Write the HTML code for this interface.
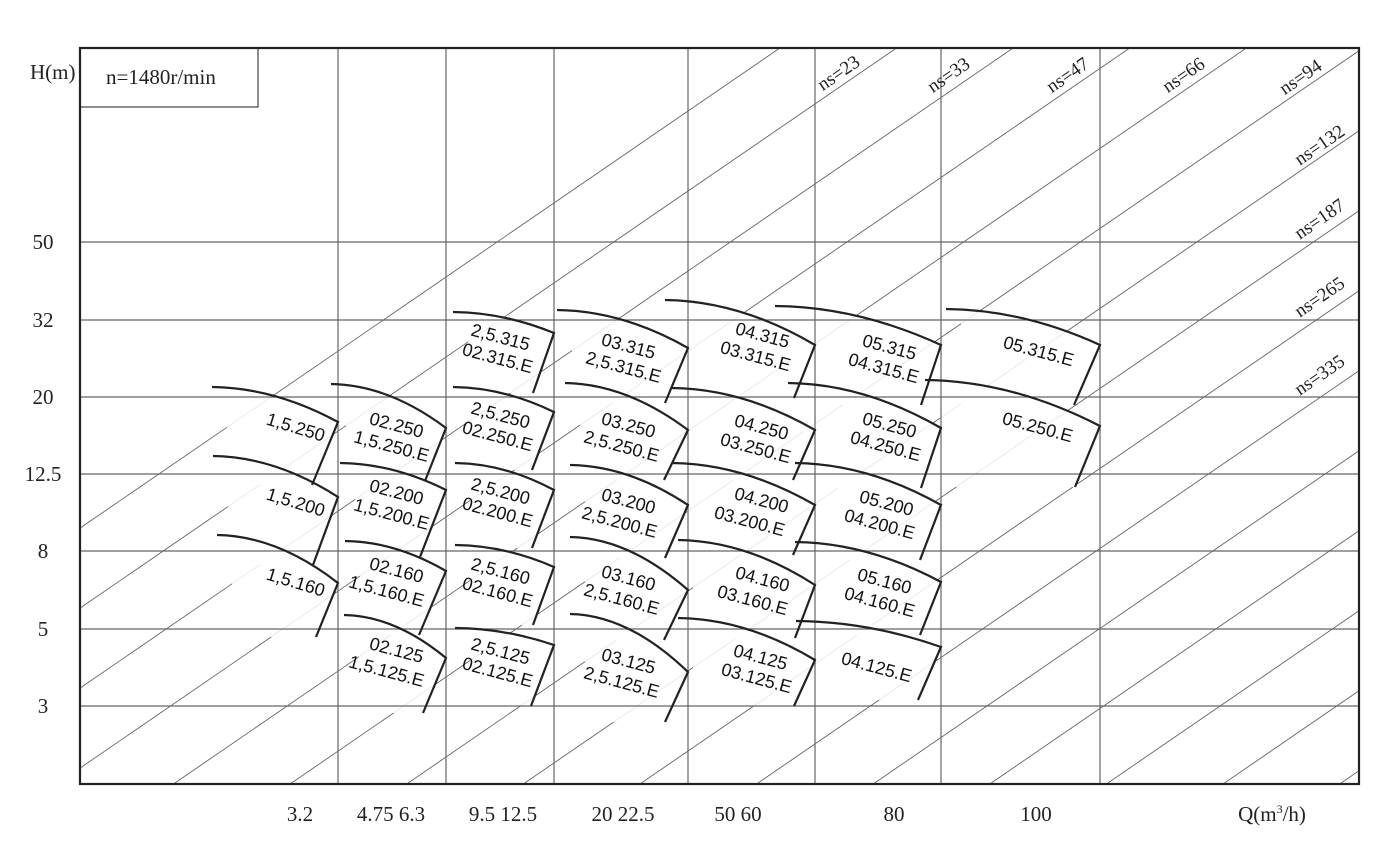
<!DOCTYPE html>
<html><head><meta charset="utf-8"><style>
html,body{margin:0;padding:0;background:#fff;width:1374px;height:866px;overflow:hidden;}
svg{display:block;position:absolute;left:0;top:0;}
.ax{font-family:"Liberation Serif",serif;font-size:21px;fill:#222;}
.lb{font-family:"Liberation Sans",sans-serif;font-size:18px;fill:#111;}
.ns{font-family:"Liberation Serif",serif;font-size:19px;fill:#222;}
</style></head><body>
<svg id="s" width="1374" height="866" viewBox="0 0 1374 866" xmlns="http://www.w3.org/2000/svg" overflow="hidden">
<defs><clipPath id="cp"><rect x="80" y="48" width="1279" height="736"/></clipPath></defs>
<rect width="1374" height="866" fill="#fff"/>
<g id="diag" clip-path="url(#cp)" stroke="#555" stroke-width="0.8"></g>
<g id="boxes"></g>
<g id="grid" stroke="#666" stroke-width="1.2">
<line x1="338" y1="48" x2="338" y2="784"/><line x1="446" y1="48" x2="446" y2="784"/>
<line x1="554" y1="48" x2="554" y2="784"/><line x1="688" y1="48" x2="688" y2="784"/>
<line x1="815" y1="48" x2="815" y2="784"/><line x1="941" y1="48" x2="941" y2="784"/>
<line x1="1100" y1="48" x2="1100" y2="784"/>
<line x1="80" y1="242" x2="1359" y2="242"/><line x1="80" y1="320" x2="1359" y2="320"/>
<line x1="80" y1="397" x2="1359" y2="397"/><line x1="80" y1="474" x2="1359" y2="474"/>
<line x1="80" y1="551" x2="1359" y2="551"/><line x1="80" y1="629" x2="1359" y2="629"/>
<line x1="80" y1="706" x2="1359" y2="706"/>
</g>
<g id="arcs"></g>
<rect x="80" y="48" width="178" height="59" fill="#fff" stroke="#444" stroke-width="1.2"/>
<rect x="80" y="48" width="1279" height="736" fill="none" stroke="#222" stroke-width="2.2"/>
<text class="ax" x="106" y="84">n=1480r/min</text>
<text class="ax" x="30" y="79">H(m)</text>
<g class="ax" text-anchor="middle">
<text x="43" y="249">50</text><text x="43" y="327">32</text><text x="43" y="404">20</text>
<text x="43" y="481">12.5</text><text x="43" y="558">8</text><text x="43" y="636">5</text><text x="43" y="713">3</text>
<text x="300" y="821">3.2</text><text x="391" y="821">4.75 6.3</text><text x="503" y="821">9.5 12.5</text>
<text x="623" y="821">20  22.5</text><text x="738" y="821">50 60</text><text x="894" y="821">80</text>
<text x="1036" y="821">100</text><text x="1272" y="821">Q(m<tspan font-size="12" dy="-8">3</tspan><tspan dy="8">/h)</tspan></text>
</g>
<g class="ns" text-anchor="middle">
<text transform="translate(842,78) rotate(-34.5)">ns=23</text>
<text transform="translate(952,80) rotate(-34.5)">ns=33</text>
<text transform="translate(1071,80) rotate(-34.5)">ns=47</text>
<text transform="translate(1187,80) rotate(-34.5)">ns=66</text>
<text transform="translate(1304,82) rotate(-34.5)">ns=94</text>
<text transform="translate(1323,150) rotate(-34.5)">ns=132</text>
<text transform="translate(1323,224) rotate(-34.5)">ns=187</text>
<text transform="translate(1323,302) rotate(-34.5)">ns=265</text>
<text transform="translate(1323,380) rotate(-34.5)">ns=335</text>
</g>
<g class="lb" text-anchor="middle">
<text transform="translate(294,433) rotate(17)">1,5.250</text>
<text transform="translate(294,508) rotate(17)">1,5.200</text>
<text transform="translate(294,588) rotate(17)">1,5.160</text>

<text transform="translate(395,431) rotate(15)">02.250</text><text transform="translate(390,452) rotate(15)">1,5.250.E</text>
<text transform="translate(395,498) rotate(15)">02.200</text><text transform="translate(390,520) rotate(15)">1,5.200.E</text>
<text transform="translate(395,576) rotate(15)">02.160</text><text transform="translate(385,597) rotate(15)">1,5.160.E</text>
<text transform="translate(395,656) rotate(15)">02.125</text><text transform="translate(385,677) rotate(15)">1,5.125.E</text>

<text transform="translate(499,343) rotate(15)">2,5.315</text><text transform="translate(496,364) rotate(15)">02.315.E</text>
<text transform="translate(499,421) rotate(15)">2,5.250</text><text transform="translate(496,442) rotate(15)">02.250.E</text>
<text transform="translate(499,497) rotate(15)">2,5.200</text><text transform="translate(496,518) rotate(15)">02.200.E</text>
<text transform="translate(499,577) rotate(15)">2,5.160</text><text transform="translate(496,598) rotate(15)">02.160.E</text>
<text transform="translate(499,657) rotate(15)">2,5.125</text><text transform="translate(496,678) rotate(15)">02.125.E</text>

<text transform="translate(627,352) rotate(15)">03.315</text><text transform="translate(622,373) rotate(15)">2,5.315.E</text>
<text transform="translate(627,431) rotate(15)">03.250</text><text transform="translate(620,452) rotate(15)">2,5.250.E</text>
<text transform="translate(627,507) rotate(15)">03.200</text><text transform="translate(618,528) rotate(15)">2,5.200.E</text>
<text transform="translate(627,584) rotate(15)">03.160</text><text transform="translate(620,605) rotate(15)">2,5.160.E</text>
<text transform="translate(627,667) rotate(15)">03.125</text><text transform="translate(620,688) rotate(15)">2,5.125.E</text>

<text transform="translate(761,341) rotate(15)">04.315</text><text transform="translate(754,362) rotate(15)">03.315.E</text>
<text transform="translate(760,433) rotate(15)">04.250</text><text transform="translate(754,454) rotate(15)">03.250.E</text>
<text transform="translate(760,506) rotate(15)">04.200</text><text transform="translate(748,527) rotate(15)">03.200.E</text>
<text transform="translate(761,585) rotate(15)">04.160</text><text transform="translate(751,606) rotate(15)">03.160.E</text>
<text transform="translate(759,663) rotate(15)">04.125</text><text transform="translate(755,684) rotate(15)">03.125.E</text>

<text transform="translate(888,353) rotate(15)">05.315</text><text transform="translate(882,374) rotate(15)">04.315.E</text>
<text transform="translate(888,431) rotate(15)">05.250</text><text transform="translate(884,452) rotate(15)">04.250.E</text>
<text transform="translate(885,509) rotate(15)">05.200</text><text transform="translate(878,530) rotate(15)">04.200.E</text>
<text transform="translate(883,587) rotate(15)">05.160</text><text transform="translate(878,608) rotate(15)">04.160.E</text>
<text transform="translate(875,673) rotate(15)">04.125.E</text>

<text transform="translate(1037,357) rotate(15)">05.315.E</text>
<text transform="translate(1036,433) rotate(15)">05.250.E</text>
</g>
</svg>
<script>
var NS="http://www.w3.org/2000/svg";
var d=document.getElementById("diag");
for(var c=583;c<=1720;c+=80){var l=document.createElementNS(NS,"line");
l.setAttribute("x1",0);l.setAttribute("y1",c);l.setAttribute("x2",1400);l.setAttribute("y2",c-0.686*1400);d.appendChild(l);}
var B=[
[212,387,338,422,312,485],[213,456,338,497,313,565],[217,535,338,583,316,637],
[331,384,446,428,425,481],[340,463,446,490,420,557],[345,541,446,571,419,635],[344,615,446,658,423,713],
[453,312,554,333,533,393],[453,387,554,412,532,470],[455,463,554,490,532,548],[455,545,554,567,533,625],[455,628,554,645,531,706],
[557,310,688,348,665,403],[565,383,688,430,664,480],[570,465,688,505,665,558],[570,537,688,590,664,640],[570,614,688,672,665,722],
[665,300,815,345,794,398],[672,388,815,430,793,480],[672,463,815,505,793,555],[678,540,815,585,795,638],[678,618,815,660,794,706],
[775,306,941,345,921,405],[788,383,941,428,921,488],[795,463,941,505,920,560],[795,542,941,582,920,635],[796,621,941,647,918,700],
[946,309,1100,345,1074,405],[925,380,1100,426,1075,487]];
var g=document.getElementById("boxes"),a=document.getElementById("arcs");
B.forEach(function(b){var x1=b[0],y1=b[1],x2=b[2],y2=b[3],x3=b[4],y3=b[5];
var cx=x1+0.5*(x2-x1),cy=y1+0.02*(y2-y1);
var arc="M"+x1+" "+y1+" Q"+cx+" "+cy+" "+x2+" "+y2;
var f=document.createElementNS(NS,"path");
f.setAttribute("d",arc+" L"+x3+" "+y3+" L"+(x1+15)+" "+(y3)+" L"+(x1+15)+" "+(y1+12)+"Z");
f.setAttribute("fill","#fff");f.setAttribute("fill-opacity","0.85");g.appendChild(f);
var p=document.createElementNS(NS,"path");
p.setAttribute("d",arc+" L"+x3+" "+y3);p.setAttribute("fill","none");p.setAttribute("stroke","#222");p.setAttribute("stroke-width","2.2");a.appendChild(p);});
</script>
</body></html>
